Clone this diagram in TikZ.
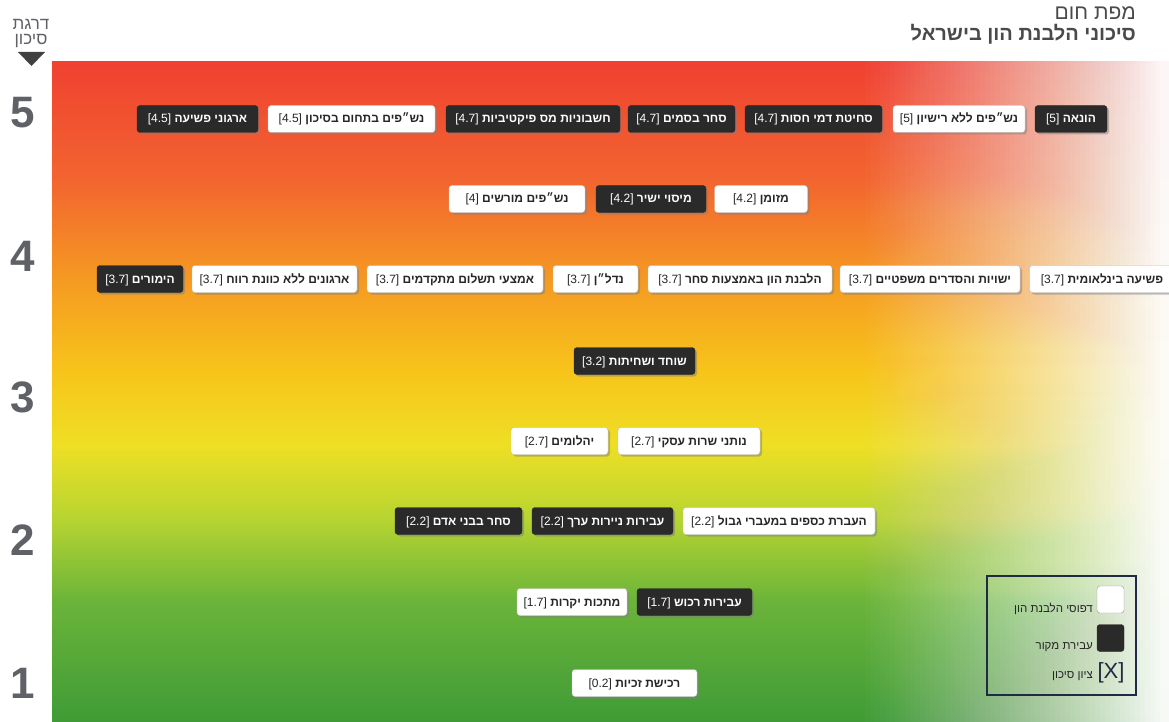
\documentclass[tikz,border=0pt]{standalone}
\usepackage{fontspec}
\usetikzlibrary{shadows}
\TeXXeTstate=1
\newfontfamily\heb[Script=Hebrew]{Liberation Sans}
\definecolor{boxdark}{HTML}{2A2A2A}
\definecolor{axisgray}{HTML}{5F6166}
\definecolor{titlegray}{HTML}{4A4A4A}
\definecolor{legendblue}{HTML}{1F2A44}
\definecolor{hr0}{HTML}{F04131}
\definecolor{hr1}{HTML}{F2652F}
\definecolor{hr2}{HTML}{F59A22}
\definecolor{hr3}{HTML}{F7C41A}
\definecolor{hr4}{HTML}{EEDF24}
\definecolor{hr5}{HTML}{B6D431}
\definecolor{hr6}{HTML}{6BB43A}
\definecolor{hr7}{HTML}{3F9B36}
\newcommand{\hbx}[2]{\beginR\textbf{#1} \beginL[#2]\endL\endR}
\tikzset{
  riskbox/.style={rounded corners=3pt, minimum height=27pt, inner xsep=6pt, inner ysep=0pt,
    text height=8pt, text depth=0pt,
    font=\heb\fontsize{12}{14}\selectfont,
    drop shadow={shadow xshift=2pt, shadow yshift=-2pt, opacity=0.5}},
  lightbox/.style={riskbox, fill=white, draw=black!25, text=black!85},
  darkbox/.style={riskbox, fill=boxdark, draw=boxdark, text=white},
  axisnum/.style={font=\heb\bfseries\fontsize{44}{44}\selectfont, text=axisgray},
  leglabel/.style={anchor=east, font=\heb\fontsize{11.5}{13}\selectfont, text=black!85, inner sep=0pt},
}
\begin{document}
\begin{tikzpicture}[x=1pt,y=-1pt]
\useasboundingbox (0,0) rectangle (1169,722);
\fill[white] (0,0) rectangle (1169,722);
% heat gradient
\shade[top color=hr0, bottom color=hr1] (52,62) rectangle (1170,180.5);
\shade[top color=hr1, bottom color=hr2] (52,180) rectangle (1170,280.5);
\shade[top color=hr2, bottom color=hr3] (52,280) rectangle (1170,370.5);
\shade[top color=hr3, bottom color=hr4] (52,370) rectangle (1170,445.5);
\shade[top color=hr4, bottom color=hr5] (52,445) rectangle (1170,520.5);
\shade[top color=hr5, bottom color=hr6] (52,520) rectangle (1170,600.5);
\shade[top color=hr6, bottom color=hr7] (52,600) rectangle (1170,723);
% white fade towards the right edge (nested strips, linear ramp)
\foreach \k in {1,...,60} {
  \pgfmathsetmacro\aop{(0.97/60)/(1-0.97*(\k-1)/60)}
  \fill[white, fill opacity=\aop] ({860+5*\k},61) rectangle (1171,723);
}

% header
\node[anchor=east, inner sep=0pt, font=\heb\fontsize{21}{23}\selectfont, text=titlegray] (title1) at (1136,13) {\beginR מפת חום\endR};
\node[anchor=east, inner sep=0pt, font=\heb\bfseries\fontsize{20}{22}\selectfont, text=titlegray] (title2) at (1136,34) {\beginR סיכוני הלבנת הון בישראל\endR};

% axis
\node[align=center, inner sep=0pt, font=\heb\fontsize{17}{15}\selectfont, text=axisgray] (axlbl) at (31,34) {\beginR דרגת\endR\\\beginR סיכון\endR};
\fill[black!75] (18,52) -- (45,52) -- (31.5,66) -- cycle;
\node[axisnum] (ax5) at (23,113) {5};
\node[axisnum] (ax4) at (23,256) {4};
\node[axisnum] (ax3) at (23,397) {3};
\node[axisnum] (ax2) at (23,540) {2};
\node[axisnum] (ax1) at (23,683) {1};

% row 5
\node[darkbox, minimum width=72pt] (n51) at (1071,119) {\hbx{הונאה}{5}};
\node[lightbox, minimum width=132pt] (n52) at (959,119) {\hbx{נש״פים ללא רישיון}{5}};
\node[darkbox, minimum width=137pt] (n53) at (813.5,119) {\hbx{סחיטת דמי חסות}{4.7}};
\node[darkbox, minimum width=107pt] (n54) at (681.5,119) {\hbx{סחר בסמים}{4.7}};
\node[darkbox, minimum width=174pt] (n55) at (533,119) {\hbx{חשבוניות מס פיקטיביות}{4.7}};
\node[lightbox, minimum width=167pt] (n56) at (351.5,119) {\hbx{נש״פים בתחום בסיכון}{4.5}};
\node[darkbox, minimum width=121pt] (n57) at (197.5,119) {\hbx{ארגוני פשיעה}{4.5}};
% row 4.2
\node[lightbox, minimum width=93pt] (n41) at (761,199) {\hbx{מזומן}{4.2}};
\node[darkbox, minimum width=110pt] (n42) at (651,199) {\hbx{מיסוי ישיר}{4.2}};
\node[lightbox, minimum width=136pt] (n43) at (517,199) {\hbx{נש״פים מורשים}{4}};
% row 3.7
\node[lightbox, minimum width=145pt] (n31) at (1102,279) {\hbx{פשיעה בינלאומית}{3.7}};
\node[lightbox, minimum width=180pt] (n32) at (930,279) {\hbx{ישויות והסדרים משפטיים}{3.7}};
\node[lightbox, minimum width=184pt] (n33) at (740,279) {\hbx{הלבנת הון באמצעות סחר}{3.7}};
\node[lightbox, minimum width=85pt] (n34) at (595.5,279) {\hbx{נדל״ן}{3.7}};
\node[lightbox, minimum width=176pt] (n35) at (455,279) {\hbx{אמצעי תשלום מתקדמים}{3.7}};
\node[lightbox, minimum width=165pt] (n36) at (274.5,279) {\hbx{ארגונים ללא כוונת רווח}{3.7}};
\node[darkbox, minimum width=86pt] (n37) at (140,279) {\hbx{הימורים}{3.7}};
% row 3.2
\node[darkbox, minimum width=121pt] (n3) at (634.5,361) {\hbx{שוחד ושחיתות}{3.2}};
% row 2.7
\node[lightbox, minimum width=142pt] (n21) at (689,441) {\hbx{נותני שרות עסקי}{2.7}};
\node[lightbox, minimum width=97pt] (n22) at (559.5,441) {\hbx{יהלומים}{2.7}};
% row 2.2
\node[lightbox, minimum width=192pt] (n23) at (779,521) {\hbx{העברת כספים במעברי גבול}{2.2}};
\node[darkbox, minimum width=141pt] (n24) at (602.5,521) {\hbx{עבירות ניירות ערך}{2.2}};
\node[darkbox, minimum width=127pt] (n25) at (458.5,521) {\hbx{סחר בבני אדם}{2.2}};
% row 1.7
\node[darkbox, minimum width=115pt] (n11) at (694.5,602) {\hbx{עבירות רכוש}{1.7}};
\node[lightbox, minimum width=110pt] (n12) at (572,602) {\hbx{מתכות יקרות}{1.7}};
% row 0.2
\node[lightbox, minimum width=125pt] (n01) at (634.5,683) {\hbx{רכישת זכיות}{0.2}};

% legend
\node[draw=legendblue, line width=1.2pt, minimum width=149pt, minimum height=119pt, inner sep=0pt] (legend) at (1061.5,635.5) {};
\node[rounded corners=3pt, fill=white, draw=black!40, minimum size=27pt, inner sep=0pt] (legw) at (1110.5,599.5) {};
\node[leglabel] (legwl) at (1093,609) {\beginR דפוסי הלבנת הון\endR};
\node[rounded corners=3pt, fill=boxdark, draw=boxdark, minimum size=27pt, inner sep=0pt] (legd) at (1110.5,638) {};
\node[leglabel] (legdl) at (1093,647) {\beginR עבירת מקור\endR};
\node[inner sep=0pt, font=\heb\fontsize{22}{24}\selectfont, text=legendblue] (legx) at (1111,673) {[X]};
\node[leglabel] (legxl) at (1093,676) {\beginR ציון סיכון\endR};
\end{tikzpicture}
\end{document}
